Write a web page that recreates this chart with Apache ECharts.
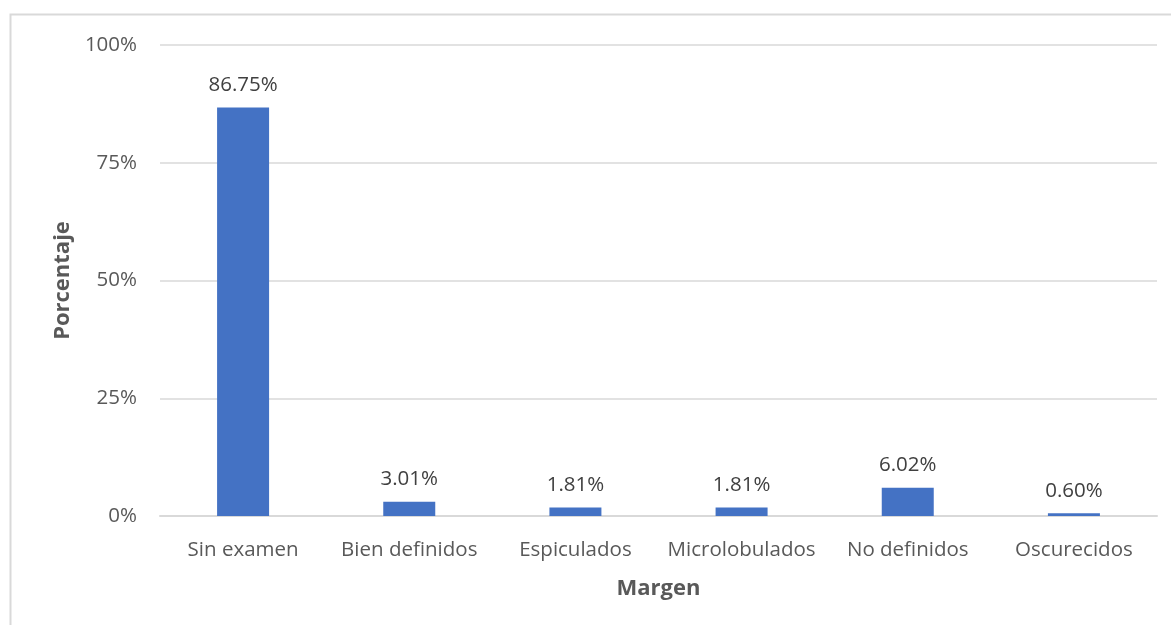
<!DOCTYPE html>
<html>
<head>
<meta charset="utf-8">
<script src="https://cdn.jsdelivr.net/npm/echarts@6/dist/echarts.min.js"></script>
<style>
  html, body { margin: 0; padding: 0; background: #ffffff; }
  #chart { width: 1171px; height: 625px; }
</style>
</head>
<body>
<div id="chart"></div>
<script>
// Margin types and their share of cases (%)
const categories = ['Sin examen', 'Bien definidos', 'Espiculados', 'Microlobulados', 'No definidos', 'Oscurecidos'];
const percentages = [86.75, 3.01, 1.81, 1.81, 6.02, 0.60];
const yTicks = { min: 0, max: 100, interval: 25 };

const font = '"Open Sans", "Liberation Sans", sans-serif';
const textColor = '#595959';

const chart = echarts.init(document.getElementById('chart'), null, { renderer: 'canvas' });
chart.setOption({
  animation: false,
  backgroundColor: '#ffffff',
  graphic: [{
    type: 'rect',
    shape: { x: 10.5, y: 14.5, width: 1200, height: 700 },
    style: { fill: 'none', stroke: '#d9d9d9', lineWidth: 2 },
    silent: true
  }],
  grid: { left: 160, right: 14, top: 45, bottom: 109, containLabel: false },
  xAxis: {
    type: 'category',
    data: categories,
    name: 'Margen',
    nameLocation: 'middle',
    nameGap: 62,
    nameTextStyle: { fontFamily: font, fontSize: 22, fontWeight: 'bold', color: textColor },
    axisLine: { show: true, lineStyle: { color: '#d9d9d9', width: 2 } },
    axisTick: { show: false },
    axisLabel: { fontFamily: font, fontSize: 20.5, color: textColor, margin: 24, interval: 0 }
  },
  yAxis: {
    type: 'value',
    min: yTicks.min,
    max: yTicks.max,
    interval: yTicks.interval,
    name: 'Porcentaje',
    nameLocation: 'middle',
    nameGap: 85,
    nameRotate: 90,
    nameTextStyle: { fontFamily: font, fontSize: 22, fontWeight: 'bold', color: textColor },
    axisLine: { show: false },
    axisTick: { show: false },
    axisLabel: { fontFamily: font, fontSize: 20.5, color: textColor, margin: 23, formatter: '{value}%' },
    splitLine: { lineStyle: { color: '#d9d9d9', width: 1.5 } }
  },
  series: [{
    type: 'bar',
    data: percentages,
    barWidth: 52,
    itemStyle: { color: '#4472c4' },
    label: {
      show: true,
      position: 'top',
      distance: 12,
      fontFamily: font,
      fontSize: 20.5,
      color: '#404040',
      formatter: p => p.value.toFixed(2) + '%'
    }
  }]
});
</script>
</body>
</html>
